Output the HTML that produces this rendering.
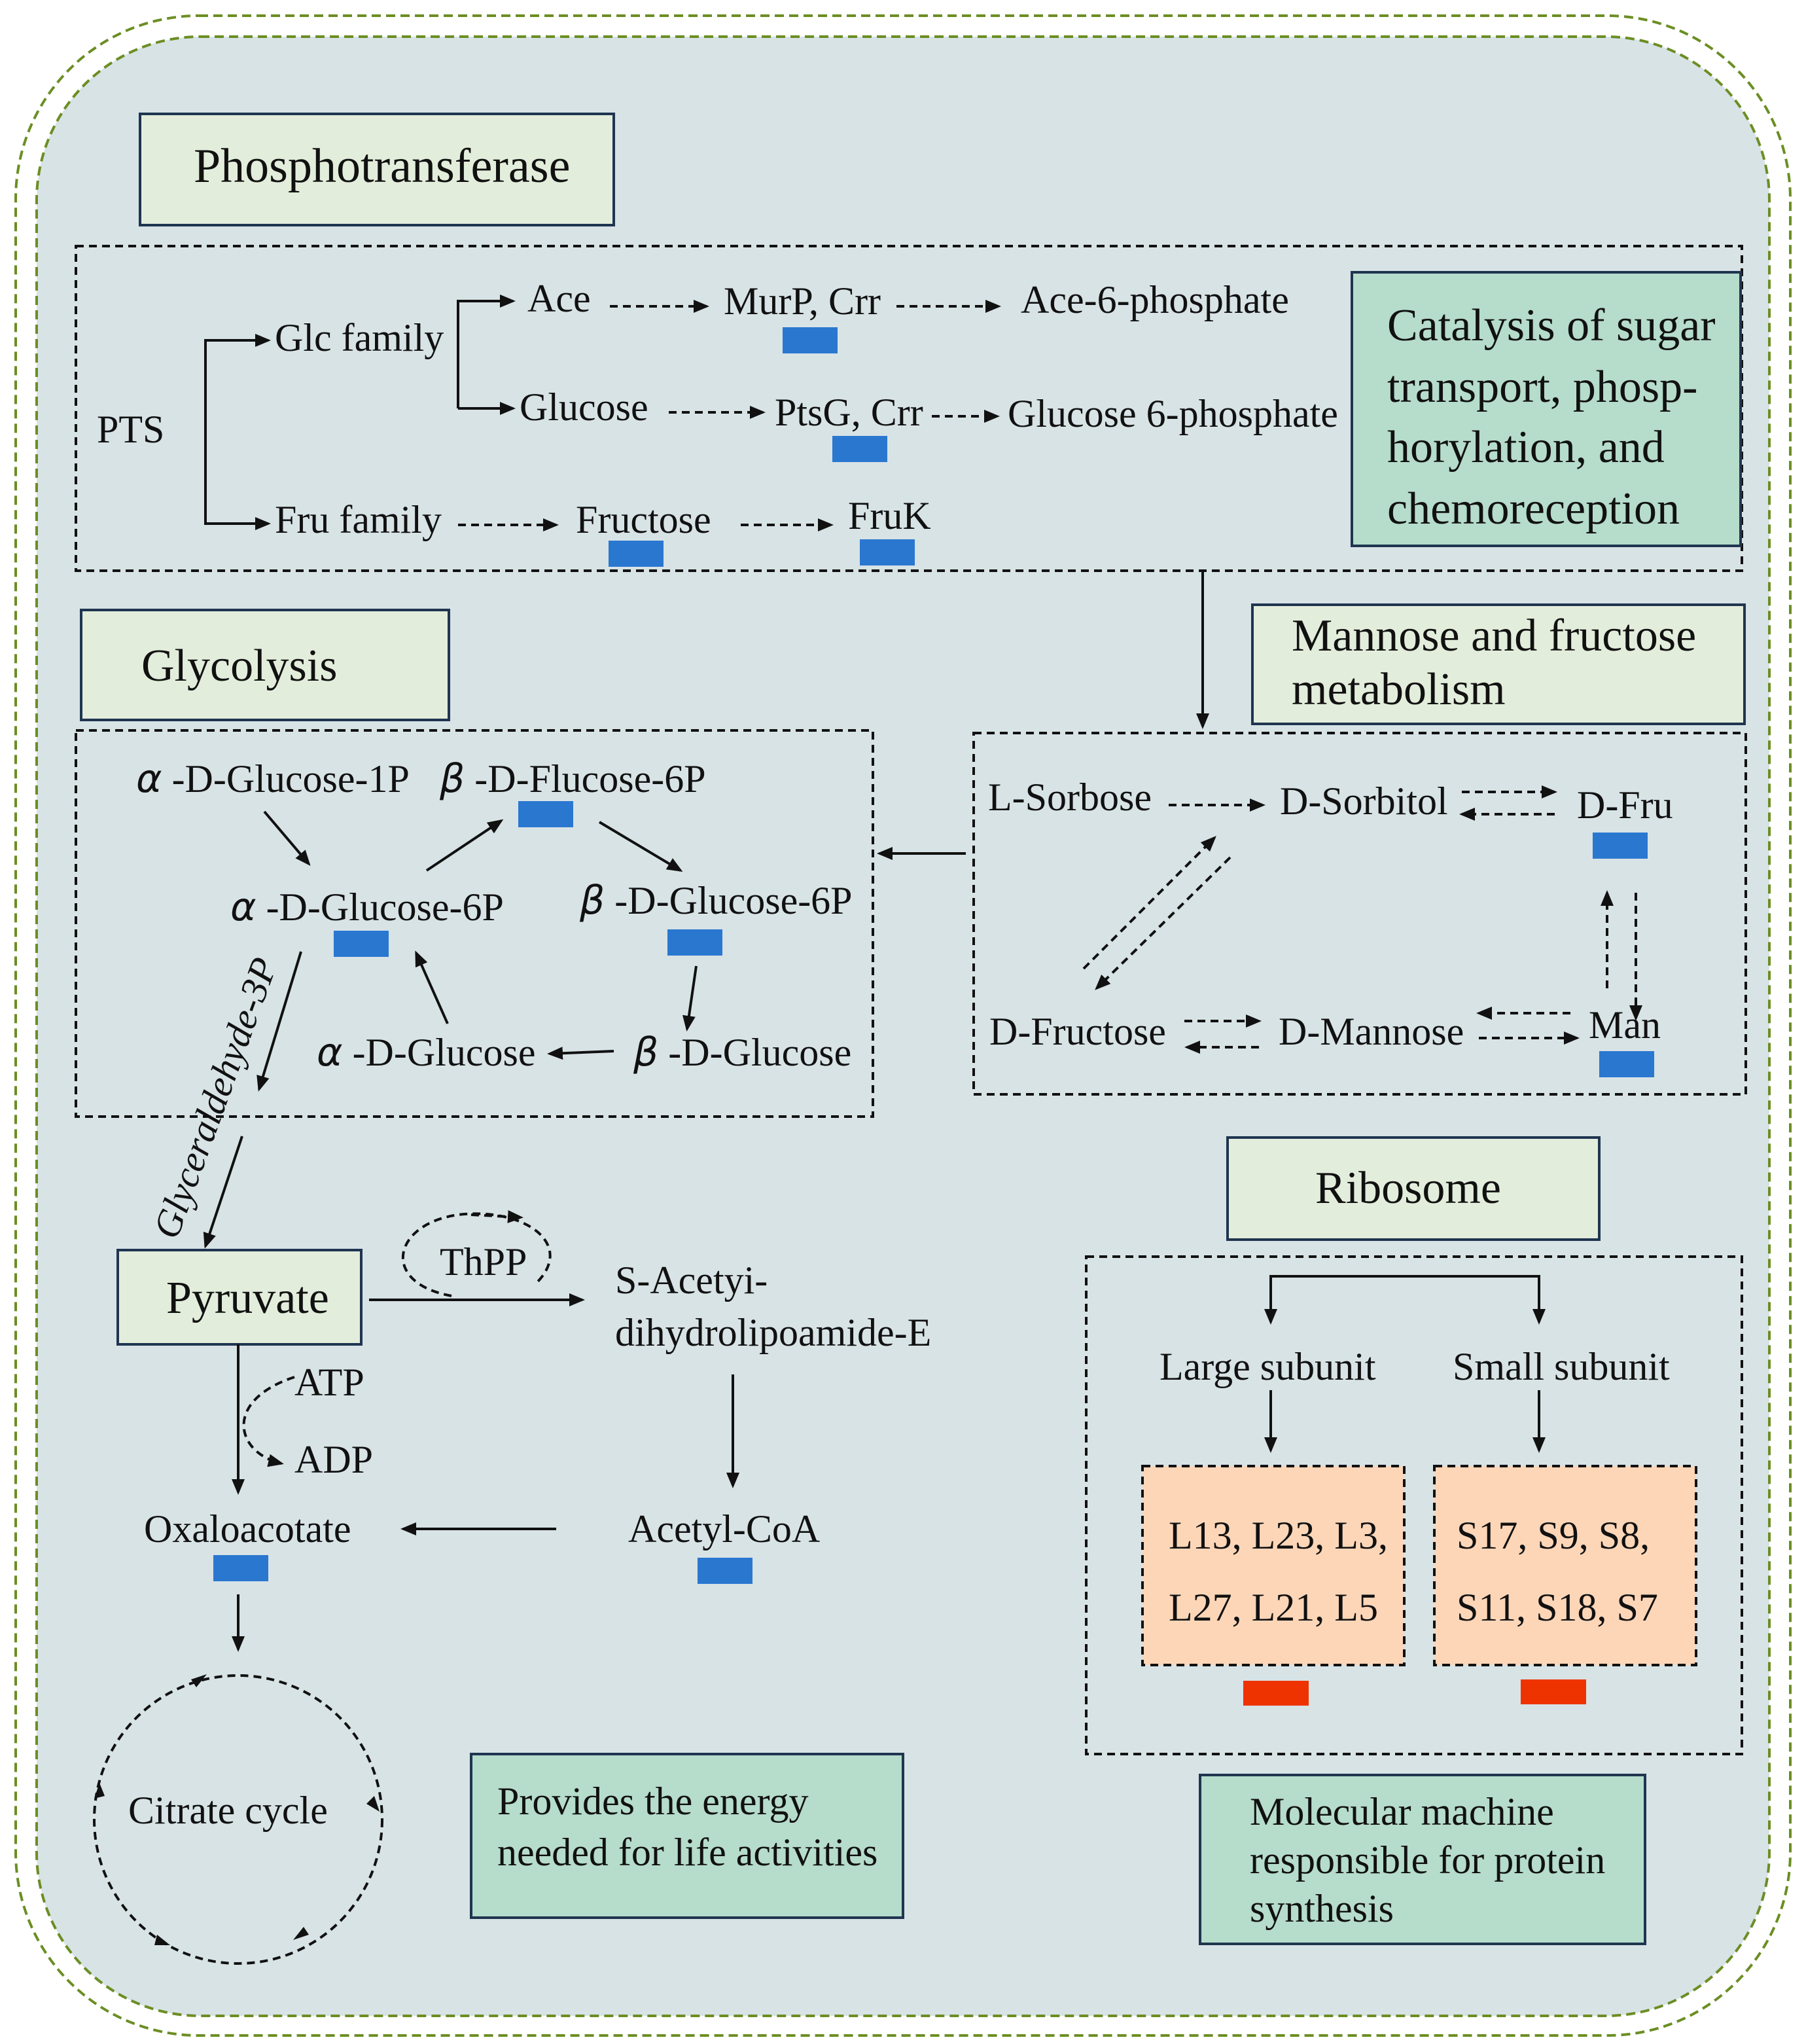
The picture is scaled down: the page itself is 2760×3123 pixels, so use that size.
<!DOCTYPE html>
<html><head><meta charset="utf-8"><style>html,body{margin:0;padding:0;background:#fff}svg{display:block}</style></head>
<body>
<svg width="2760" height="3123" viewBox="0 0 1380 1561.5" xmlns="http://www.w3.org/2000/svg" font-family="'Liberation Serif', serif" font-size="30" fill="#111">
<defs>
<marker id="a" markerWidth="12" markerHeight="12" refX="10" refY="6" orient="auto" markerUnits="userSpaceOnUse"><path d="M0,1 L12,6 L0,11 z" fill="#111"/></marker>
</defs>
<rect x="12" y="12" width="1356" height="1543" rx="140" fill="#fff" stroke="#6b8e23" stroke-width="2" stroke-dasharray="7,4"/>
<rect x="28" y="28" width="1324" height="1512" rx="125" fill="#d8e3e6" stroke="#6b8e23" stroke-width="2" stroke-dasharray="7,4"/>
<g stroke="#111" stroke-width="2" fill="none">
<rect x="58" y="188" width="1273" height="248" stroke-dasharray="6,4"/>
<rect x="58" y="558" width="609" height="295" stroke-dasharray="6,4"/>
<rect x="744" y="560" width="590" height="276" stroke-dasharray="6,4"/>
<rect x="830" y="960" width="501" height="380" stroke-dasharray="6,4"/>
</g>
<g stroke="#1f3550" stroke-width="2">
<rect x="107" y="87" width="362" height="85" fill="#e3eddb"/>
<rect x="1033" y="208" width="297" height="209" fill="#b6dccb"/>
<rect x="62" y="466" width="281" height="84" fill="#e3eddb"/>
<rect x="957" y="462" width="376" height="91" fill="#e3eddb"/>
<rect x="90" y="955" width="186" height="72" fill="#e3eddb"/>
<rect x="360" y="1340" width="330" height="125" fill="#b6dccb"/>
<rect x="938" y="869" width="284" height="78" fill="#e3eddb"/>
<rect x="917" y="1356" width="340" height="129" fill="#b6dccb"/>
</g>
<g stroke="#111" stroke-width="2" stroke-dasharray="6,4" fill="#fdd6b8">
<rect x="873" y="1120" width="200" height="152"/>
<rect x="1096" y="1120" width="200" height="152"/>
</g>
<g fill="#2a77d0">
<rect x="598" y="250" width="42" height="20"/><rect x="636" y="333" width="42" height="20"/>
<rect x="465" y="413" width="42" height="20"/><rect x="657" y="412" width="42" height="20"/>
<rect x="396" y="612" width="42" height="20"/><rect x="255" y="711" width="42" height="20"/>
<rect x="510" y="710" width="42" height="20"/><rect x="1217" y="636" width="42" height="20"/>
<rect x="1222" y="803" width="42" height="20"/><rect x="163" y="1188" width="42" height="20"/>
<rect x="533" y="1190" width="42" height="20"/>
</g>
<g fill="#ee3300"><rect x="950" y="1284" width="50" height="19"/><rect x="1162" y="1283" width="50" height="19"/></g>
<g stroke="#111" stroke-width="2" fill="none" marker-end="url(#a)">
<path d="M205,260 H157 V400 H205" marker-end="none"/>
<line x1="157" y1="260" x2="205" y2="260"/><line x1="157" y1="400" x2="205" y2="400"/>
<path d="M392,230 H350 V312" marker-end="none"/>
<line x1="350" y1="230" x2="392" y2="230"/><line x1="350" y1="312" x2="392" y2="312"/>
<line x1="919" y1="436" x2="919" y2="555"/>
<line x1="738" y1="652" x2="672" y2="652"/>
<line x1="202" y1="620" x2="236" y2="660"/><line x1="326" y1="665" x2="383" y2="627"/>
<line x1="458" y1="628" x2="520" y2="665"/><line x1="532" y1="738" x2="525" y2="786"/>
<line x1="469" y1="803" x2="420" y2="805"/><line x1="342" y1="782" x2="318" y2="728"/>
<line x1="230" y1="727" x2="198" y2="832"/><line x1="185" y1="868" x2="157" y2="952"/>
<line x1="282" y1="993" x2="445" y2="993"/><line x1="560" y1="1050" x2="560" y2="1135"/>
<line x1="425" y1="1168" x2="308" y2="1168"/><line x1="182" y1="1027" x2="182" y2="1140"/>
<line x1="182" y1="1218" x2="182" y2="1260"/>
<path d="M971,1008 V975 H1176 V1008" marker-end="none"/>
<line x1="971" y1="975" x2="971" y2="1010"/><line x1="1176" y1="975" x2="1176" y2="1010"/>
<line x1="971" y1="1062" x2="971" y2="1108"/><line x1="1176" y1="1062" x2="1176" y2="1108"/>
</g>
<g stroke="#111" stroke-width="2" fill="none" stroke-dasharray="6,4" marker-end="url(#a)">
<line x1="466" y1="234" x2="540" y2="234"/><line x1="685" y1="234" x2="763" y2="234"/>
<line x1="511" y1="315" x2="583" y2="315"/><line x1="712" y1="318" x2="762" y2="318"/>
<line x1="350" y1="401" x2="425" y2="401"/><line x1="566" y1="401" x2="635" y2="401"/>
<line x1="893" y1="615" x2="965" y2="615"/><line x1="1117" y1="605" x2="1188" y2="605"/>
<line x1="1188" y1="622" x2="1117" y2="622"/>
<line x1="828" y1="740" x2="928" y2="640"/><line x1="940" y1="655" x2="838" y2="755"/>
<line x1="905" y1="780" x2="962" y2="780"/><line x1="962" y1="800" x2="907" y2="800"/>
<line x1="1200" y1="774" x2="1130" y2="774"/><line x1="1130" y1="793" x2="1205" y2="793"/>
<line x1="1228" y1="755" x2="1228" y2="682"/><line x1="1250" y1="682" x2="1250" y2="778"/>
<path d="M225,1052 C170,1070 180,1110 215,1118"/>
<path d="M345,990 C290,980 300,935 350,928 C400,922 440,950 410,980" marker-end="none"/>
<line x1="360" y1="928" x2="398" y2="930"/>
<circle cx="182" cy="1390" r="110" marker-end="none"/>
</g>
<g fill="#111">
<path d="M146,1283 l12,-4 l-8,10z"/><path d="M286,1372 l4,12 l-10,-6z"/><path d="M236,1478 l-12,4 l8,-10z"/><path d="M120,1478 l10,8 l-12,0z"/><path d="M76,1362 l-4,12 l8,-2z"/>
</g>
<text x="148" y="139" font-size="37">Phosphotransferase</text>
<g font-size="35"><text x="1060" y="260">Catalysis of sugar</text><text x="1060" y="307">transport, phosp-</text><text x="1060" y="353">horylation, and</text><text x="1060" y="400">chemoreception</text></g>
<text x="74" y="338">PTS</text>
<text x="210" y="268">Glc family</text><text x="210" y="407">Fru family</text>
<text x="403" y="238">Ace</text><text x="397" y="321">Glucose</text>
<text x="553" y="240">MurP, Crr</text><text x="780" y="239">Ace-6-phosphate</text>
<text x="592" y="325">PtsG, Crr</text><text x="770" y="326">Glucose 6-phosphate</text>
<text x="440" y="407">Fructose</text><text x="648" y="404">FruK</text>
<text x="108" y="520" font-size="35">Glycolysis</text>
<g font-size="35"><text x="987" y="497">Mannose and fructose</text><text x="987" y="538">metabolism</text></g>
<text x="104" y="605"><tspan font-family="'DejaVu Sans',sans-serif" font-style="italic">α</tspan> -D-Glucose-1P</text>
<text x="336" y="605"><tspan font-family="'DejaVu Sans',sans-serif" font-style="italic">β</tspan> -D-Flucose-6P</text>
<text x="176" y="703"><tspan font-family="'DejaVu Sans',sans-serif" font-style="italic">α</tspan> -D-Glucose-6P</text>
<text x="443" y="698"><tspan font-family="'DejaVu Sans',sans-serif" font-style="italic">β</tspan> -D-Glucose-6P</text>
<text x="242" y="814"><tspan font-family="'DejaVu Sans',sans-serif" font-style="italic">α</tspan> -D-Glucose</text>
<text x="484" y="814"><tspan font-family="'DejaVu Sans',sans-serif" font-style="italic">β</tspan> -D-Glucose</text>
<text transform="translate(135,948) rotate(-70)" font-style="italic" font-size="29">Glyceraldehyde-3P</text>
<text x="127" y="1003" font-size="35">Pyruvate</text>
<text x="336" y="974">ThPP</text>
<text x="470" y="988">S-Acetyi-</text><text x="470" y="1028">dihydrolipoamide-E</text>
<text x="480" y="1178">Acetyl-CoA</text><text x="110" y="1178">Oxaloacotate</text>
<text x="225" y="1066">ATP</text><text x="225" y="1125">ADP</text>
<text x="98" y="1393">Citrate cycle</text>
<text x="380" y="1386">Provides the energy</text><text x="380" y="1425">needed for life activities</text>
<text x="755" y="619">L-Sorbose</text><text x="978" y="622">D-Sorbitol</text><text x="1205" y="625">D-Fru</text>
<text x="756" y="798">D-Fructose</text><text x="977" y="798">D-Mannose</text><text x="1214" y="793">Man</text>
<text x="1005" y="919" font-size="35">Ribosome</text>
<text x="886" y="1054">Large subunit</text><text x="1110" y="1054">Small subunit</text>
<text x="893" y="1183">L13, L23, L3,</text><text x="893" y="1238">L27, L21, L5</text>
<text x="1113" y="1183">S17, S9, S8,</text><text x="1113" y="1238">S11, S18, S7</text>
<text x="955" y="1394">Molecular machine</text><text x="955" y="1431">responsible for protein</text><text x="955" y="1468">synthesis</text>
</svg>
</body></html>
